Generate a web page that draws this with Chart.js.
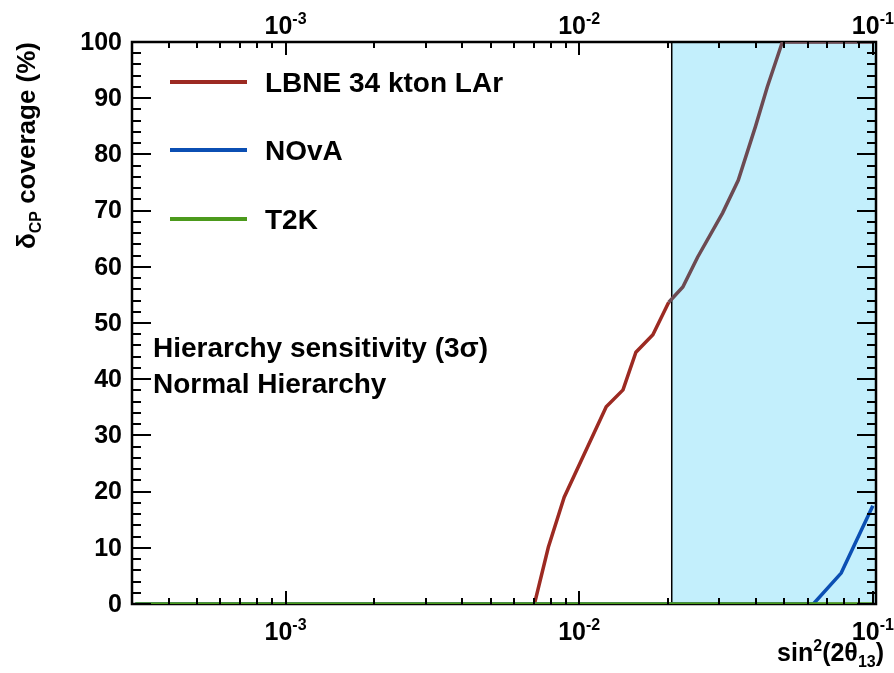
<!DOCTYPE html>
<html>
<head>
<meta charset="utf-8">
<script src="https://cdn.jsdelivr.net/npm/chart.js@4"></script>
<style>
  html, body { margin: 0; padding: 0; background: #fff; }
  canvas { display: block; }
</style>
</head>
<body>
<canvas id="coverageChart" width="894" height="673"></canvas>
<script>
// sin^2(2 theta13) values and delta_CP coverage (%)
const lbneX = [0.00704, 0.00785, 0.00889, 0.01236, 0.0141, 0.0156, 0.01782, 0.02018, 0.02254, 0.0253, 0.0308, 0.0348, 0.0398, 0.0437, 0.0492, 0.1];
const lbneY = [0, 10.1, 19.0, 35.1, 38.1, 44.8, 47.9, 53.7, 56.4, 61.7, 69.6, 75.4, 84.9, 92.0, 100, 100];
const novaX = [0.000308, 0.0627, 0.078, 0.1];
const novaY = [0, 0, 5.5, 17.5];
const t2kX = [0.000308, 0.1];
const t2kY = [0, 0];

const seriesNames = ['LBNE 34 kton LAr', 'NOvA', 'T2K'];
const seriesColors = ['#9c2a22', '#0b4fb3', '#4c9a1c'];
const shadedColor = '#6c4a52'; // red line as seen through the shaded band
const infoLines = ['Hierarchy sensitivity (3\u03c3)', 'Normal Hierarchy'];

const xMin = 0.000308, xMax = 0.1025;
const yMin = 0, yMax = 100;
const bandStart = 0.02066; // left edge of shaded band
const xMajor = [0.001, 0.01, 0.1];
const xMajorExp = ['-3', '-2', '-1'];
const yLabels = [0, 10, 20, 30, 40, 50, 60, 70, 80, 90, 100];

function pts(xs, ys) {
    return xs.map((x, i) => ({ x: x, y: ys[i] }));
}

const FONT = '"Liberation Sans", Arial, Helvetica, sans-serif';

// draws "10" with a superscript exponent centred on cx
function drawPow(ctx, cx, baseline, exp) {
    ctx.font = 'bold 25px ' + FONT;
    const w1 = ctx.measureText('10').width;
    ctx.font = 'bold 16px ' + FONT;
    const w2 = ctx.measureText(exp).width;
    const left = cx - (w1 + w2) / 2;
    ctx.textAlign = 'left';
    ctx.textBaseline = 'alphabetic';
    ctx.font = 'bold 25px ' + FONT;
    ctx.fillText('10', left, baseline);
    ctx.font = 'bold 16px ' + FONT;
    ctx.fillText(exp, left + w1, baseline - 10);
}

// pieces: [text, sizePx, yShift]
function drawPieces(ctx, pieces, x, y) {
    let cx = x;
    ctx.textAlign = 'left';
    ctx.textBaseline = 'alphabetic';
    pieces.forEach(p => {
        ctx.font = 'bold ' + p[1] + 'px ' + FONT;
        ctx.fillText(p[0], cx, y + p[2]);
        cx += ctx.measureText(p[0]).width;
    });
}
function piecesWidth(ctx, pieces) {
    let w = 0;
    pieces.forEach(p => {
        ctx.font = 'bold ' + p[1] + 'px ' + FONT;
        w += ctx.measureText(p[0]).width;
    });
    return w;
}

const bandPlugin = {
    id: 'band',
    beforeDatasetsDraw(chart) {
        const ctx = chart.ctx;
        const a = chart.chartArea;
        const x0 = chart.scales.x.getPixelForValue(bandStart);
        ctx.save();
        ctx.fillStyle = '#c3effc';
        ctx.fillRect(x0, a.top, a.right - x0, a.bottom - a.top);
        ctx.strokeStyle = '#000';
        ctx.lineWidth = 1.5;
        ctx.strokeRect(x0, a.top, a.right - x0, a.bottom - a.top);
        // frame
        ctx.lineWidth = 2.5;
        ctx.strokeRect(a.left, a.top, a.right - a.left, a.bottom - a.top);
        ctx.restore();
    }
};

const axesPlugin = {
    id: 'axes',
    afterDatasetsDraw(chart) {
        const ctx = chart.ctx;
        const a = chart.chartArea;
        const xs = chart.scales.x, ys = chart.scales.y;
        ctx.save();
        ctx.strokeStyle = '#000';
        ctx.fillStyle = '#000';
        ctx.lineWidth = 2;
        ctx.beginPath();
        // log x ticks, bottom and top, pointing inwards
        for (let d = -4; d <= -1; d++) {
            for (let k = 1; k <= 9; k++) {
                const v = k * Math.pow(10, d);
                if (v < xMin || v > xMax) continue;
                const px = Math.round(xs.getPixelForValue(v));
                const len = k === 1 ? 13 : 6;
                ctx.moveTo(px, a.bottom);
                ctx.lineTo(px, a.bottom - len);
                ctx.moveTo(px, a.top);
                ctx.lineTo(px, a.top + len);
            }
        }
        // y ticks every 2, left and right
        for (let v = yMin; v <= yMax; v += 2) {
            const py = Math.round(ys.getPixelForValue(v));
            const len = v % 10 === 0 ? 19 : 9;
            ctx.moveTo(a.left, py);
            ctx.lineTo(a.left + len, py);
            ctx.moveTo(a.right, py);
            ctx.lineTo(a.right - len, py);
        }
        ctx.stroke();

        // y tick labels
        ctx.font = 'bold 25px ' + FONT;
        ctx.textAlign = 'right';
        ctx.textBaseline = 'middle';
        yLabels.forEach(v => {
            ctx.fillText(String(v), a.left - 10, ys.getPixelForValue(v) + 1);
        });

        // x tick labels bottom and top
        xMajor.forEach((v, i) => {
            const px = xs.getPixelForValue(v);
            drawPow(ctx, px, a.bottom + 36, xMajorExp[i]);
            drawPow(ctx, px, a.top - 8, xMajorExp[i]);
        });

        // x axis title
        const xt = [['sin', 25, 0], ['2', 16, -10], ['(2\u03b8', 25, 0], ['13', 16, 6], [')', 25, 0]];
        const wx = piecesWidth(ctx, xt);
        drawPieces(ctx, xt, 884 - wx, 661);

        // y axis title, rotated
        const yt = [['\u03b4', 26, 0], ['CP', 16, 6], [' coverage (%)', 26, 0]];
        const wy = piecesWidth(ctx, yt);
        ctx.save();
        ctx.translate(35, a.top);
        ctx.rotate(-Math.PI / 2);
        drawPieces(ctx, yt, -wy, 0);
        ctx.restore();

        // legend
        const legY = [82, 150, 219];
        seriesNames.forEach((name, i) => {
            ctx.strokeStyle = seriesColors[i];
            ctx.lineWidth = 4;
            ctx.beginPath();
            ctx.moveTo(170, legY[i]);
            ctx.lineTo(247, legY[i]);
            ctx.stroke();
            ctx.font = 'bold 28px ' + FONT;
            ctx.textAlign = 'left';
            ctx.textBaseline = 'middle';
            ctx.fillText(name, 265, legY[i] + 2);
        });

        // annotation
        ctx.font = 'bold 28px ' + FONT;
        ctx.textBaseline = 'alphabetic';
        ctx.fillText(infoLines[0], 153, 357);
        ctx.fillText(infoLines[1], 153, 393);
        ctx.restore();
    }
};

new Chart(document.getElementById('coverageChart').getContext('2d'), {
    type: 'line',
    data: {
        datasets: [
            {
                label: seriesNames[2],
                data: pts(t2kX, t2kY),
                borderColor: seriesColors[2],
                borderWidth: 3.5
            },
            {
                label: seriesNames[1],
                data: pts(novaX, novaY),
                borderColor: seriesColors[1],
                borderWidth: 3.5
            },
            {
                label: seriesNames[0],
                data: pts(lbneX, lbneY),
                borderColor: seriesColors[0],
                borderWidth: 3.5,
                segment: {
                    borderColor: c => c.p1.parsed.x > bandStart ? shadedColor : seriesColors[0]
                }
            }
        ]
    },
    options: {
        responsive: false,
        animation: false,
        events: [],
        layout: { padding: { left: 132, right: 18, top: 42, bottom: 69 } },
        elements: { point: { radius: 0 }, line: { tension: 0 } },
        scales: {
            x: { type: 'logarithmic', min: xMin, max: xMax, display: false },
            y: { type: 'linear', min: yMin, max: yMax, display: false }
        },
        plugins: { legend: { display: false }, tooltip: { enabled: false } }
    },
    plugins: [bandPlugin, axesPlugin]
});
</script>
</body>
</html>
